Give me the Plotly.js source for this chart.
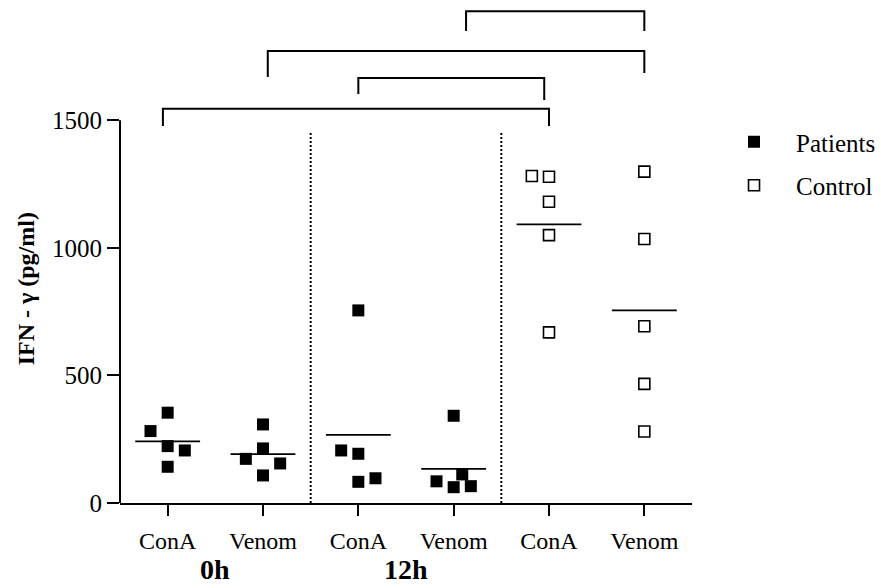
<!DOCTYPE html>
<html>
<head>
<meta charset="utf-8">
<script src="https://cdn.plot.ly/plotly-3.0.1.min.js"></script>
<style>
  html, body { margin: 0; padding: 0; background: #fff; }
  #chart { width: 881px; height: 588px; }
</style>
</head>
<body>
<div id="chart"></div>
<script>
// IFN-γ (pg/ml) per stimulus, five donors per column
const catLabels = ['ConA', 'Venom', 'ConA', 'Venom', 'ConA', 'Venom'];
const timeLabels = ['0h', '12h'];
const seriesNames = ['Patients', 'Control'];
const yTitle = 'IFN - γ (pg/ml)';

const conA0h     = [354, 282, 223, 206, 142];
const venom0h    = [308, 214, 173, 155, 108];
const conA12h    = [755, 206, 193, 97, 83];
const venom12h   = [342, 112, 85, 66, 62];
const conACtrl   = [1282, 1279, 1181, 1050, 669];
const venomCtrl  = [1299, 1035, 693, 467, 280];

// comparison brackets: [left column, right column]
const comparisons = [[0, 4], [2, 4], [1, 5], [3, 5]];

// ---- layout helpers (placement only) ----
const columns = [conA0h, venom0h, conA12h, venom12h, conACtrl, venomCtrl];
const patientCols = [0, 1, 2, 3];
const controlCols = [4, 5];
// horizontal spread slots so overlapping squares sit side by side
const spreadSlots = [
  [0, -1, 0, 1, 0],
  [0, 0, -1, 1, 0],
  [0, -1, 0, 1, 0],
  [0, 0.5, -1, 1, 0],
  [-1, 0, 0, 0, 0],
  [0, 0, 0, 0, 0]
];
const slotWidth = 0.18;
const meanHalf = 0.34;
const bracketLevels = [1545, 1666, 1772, 1928];
const bracketDrops = [[67, 67], [63, 86], [102, 86], [78, 78]];
const bracketNudge = [[-0.05, 0], [0, -0.05], [0.05, 0], [0.13, 0]];

const FONT = '"Liberation Serif", "Times New Roman", Times, serif';

function pointsFor(cols) {
  const xs = [], ys = [];
  cols.forEach(c => {
    columns[c].forEach((v, i) => {
      xs.push(c + spreadSlots[c][i] * slotWidth);
      ys.push(v);
    });
  });
  return { x: xs, y: ys };
}

const pat = pointsFor(patientCols);
const ctl = pointsFor(controlCols);

// mean bars
const mx = [], my = [];
columns.forEach((vals, c) => {
  const m = vals.reduce((a, b) => a + b, 0) / vals.length;
  mx.push(c - meanHalf, c + meanHalf, null);
  my.push(m, m, null);
});

const traces = [
  {
    type: 'scatter', mode: 'lines', x: mx, y: my,
    line: { color: '#000', width: 1.8 }, showlegend: false, hoverinfo: 'skip'
  },
  {
    type: 'scatter', mode: 'markers', name: seriesNames[0],
    x: pat.x, y: pat.y, legendgroup: 'a',
    marker: { symbol: 'square', size: 12, color: '#000', line: { width: 0 } }
  },
  {
    type: 'scatter', mode: 'markers', name: seriesNames[1],
    x: ctl.x, y: ctl.y, legendgroup: 'b',
    marker: { symbol: 'square-open', size: 11, color: '#000', line: { width: 1.6, color: '#000' } }
  }
];

const shapes = [];
// y axis line only up to the last tick
shapes.push({ type: 'line', xref: 'paper', yref: 'y', x0: 0, x1: 0, y0: 0, y1: 1500,
  line: { color: '#000', width: 2 } });
// dotted separators between the time blocks
[1.5, 3.5].forEach(xv => shapes.push({
  type: 'line', xref: 'x', yref: 'y', x0: xv, x1: xv, y0: 0, y1: 1455,
  line: { color: '#000', width: 2, dash: '2px,2px' }
}));
// significance brackets
comparisons.forEach((p, k) => {
  const top = bracketLevels[k];
  const d = bracketDrops[k];
  const a = p[0] + bracketNudge[k][0];
  const b = p[1] + bracketNudge[k][1];
  shapes.push({
    type: 'path', xref: 'x', yref: 'y',
    path: `M ${a},${top - d[0]} L ${a},${top} L ${b},${top} L ${b},${top - d[1]}`,
    line: { color: '#000', width: 2 }
  });
});

const annotations = timeLabels.map((t, i) => ({
  text: t, xref: 'x', yref: 'paper', x: 0.5 + 2 * i, y: -0.133,
  xanchor: 'center', yanchor: 'middle', showarrow: false,
  font: { family: FONT, size: 28, color: '#000', weight: 'bold' }
}));
// rotated y-axis title, centred on the 0–1500 span
annotations.push({
  text: yTitle, xref: 'paper', yref: 'y', x: -0.165, y: 840,
  xanchor: 'center', yanchor: 'middle', textangle: -90, showarrow: false,
  font: { family: FONT, size: 24, color: '#000', weight: 'bold' }
});

const layout = {
  width: 881, height: 588,
  margin: { l: 120, r: 189, t: 3, b: 84.5, autoexpand: false },
  paper_bgcolor: '#fff', plot_bgcolor: '#fff',
  font: { family: FONT, color: '#000' },
  showlegend: true,
  legend: {
    x: 1.035, xanchor: 'left', y: 0.768, yanchor: 'top',
    font: { family: FONT, size: 25, color: '#000' },
    itemwidth: 74,
    tracegroupgap: 8, bgcolor: 'rgba(0,0,0,0)'
  },
  xaxis: {
    range: [-0.5, 5.5], showgrid: false, zeroline: false,
    showline: true, linecolor: '#000', linewidth: 2,
    ticks: 'outside', ticklen: 11, tickwidth: 2, tickcolor: '#000',
    ticklabelstandoff: 4,
    tickvals: [0, 1, 2, 3, 4, 5], ticktext: catLabels,
    tickfont: { family: FONT, size: 24, color: '#000' }
  },
  yaxis: {
    range: [0, 1960], showgrid: false, zeroline: false, showline: false,
    ticks: 'outside', ticklen: 12, tickwidth: 2, tickcolor: '#000',
    tickvals: [0, 500, 1000, 1500], ticktext: ['0', '500', '1000', '1500'],
    tickfont: { family: FONT, size: 25, color: '#000' }
  },
  shapes: shapes,
  annotations: annotations
};

Plotly.newPlot('chart', traces, layout, { displayModeBar: false, staticPlot: true });
</script>
</body>
</html>
